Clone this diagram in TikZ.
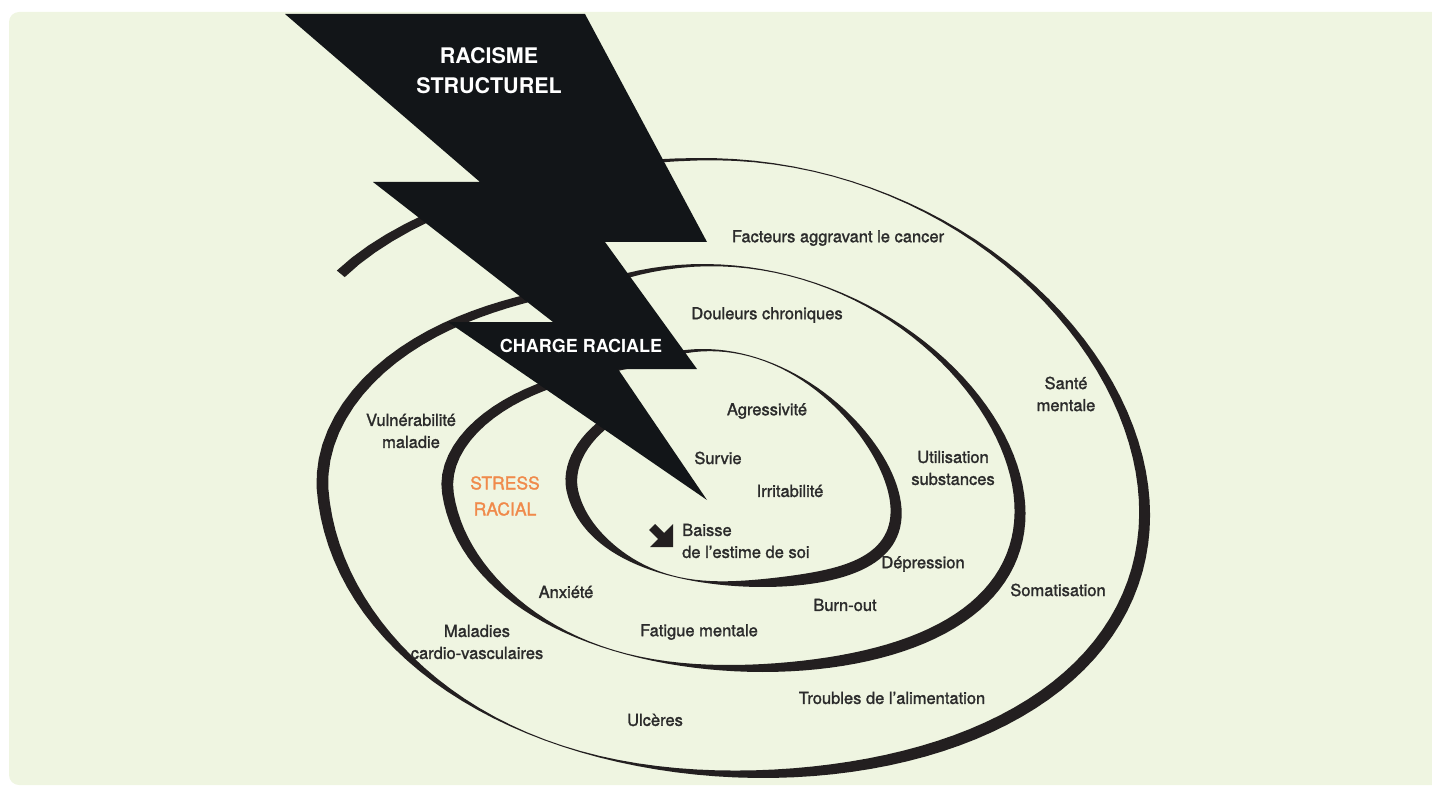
\documentclass[tikz,border=0pt]{standalone}
\usepackage{fontspec}
\setmainfont{TeX Gyre Heros}
\newfontfamily\labfont[FakeBold=1.5]{TeX Gyre Heros}
\definecolor{paper}{HTML}{EFF5E1}
\definecolor{ink}{HTML}{231F20}
\definecolor{bolt}{HTML}{121518}
\definecolor{txt}{HTML}{2B2B2B}
\definecolor{stress}{HTML}{F08A4B}
\tikzset{declare function={
  cl(\x)=min(1,max(0,\x));
  ss(\x)=\x*\x*(3-2*\x);
  Ar(\x)=416+76*ss(cl((\x-90)/50))-125*ss(cl((-180-\x)/75))-125*ss(cl((-540-\x)/75))-46*cl((-900-\x)/50)*cl((-900-\x)/50);
  Br(\x)=310+20*ss(cl((\x-90)/50))-106*ss(cl((-180-\x)/75))-85*ss(cl((-540-\x)/75))-19*cl((-900-\x)/50)*cl((-900-\x)/50);
  dA(\x)=(mod(\x-72+3780,360)-180)/50;
  dB(\x)=(mod(\x+120+3780,360)-180)/30;
  wd(\x)=12-11*exp(-dA(\x)*dA(\x))-11*exp(-dB(\x)*dB(\x));
}}
\begin{document}
\begin{tikzpicture}[x=1pt,y=-1pt,
  lbl/.style={text=txt,inner sep=0pt,align=center,font=\labfont\fontsize{16.5}{22}\selectfont},
  head/.style={text=white,inner sep=0pt,align=center,font=\bfseries\fontsize{21.5}{30}\selectfont}]
  \def\cx{733} \def\cy{468}
  \useasboundingbox (0,0) rectangle (1432,786);
  \fill[paper,rounded corners=10pt] (9,12) rectangle (1445,785);
  \fill[ink] plot[samples=400,domain=140:-945] ({\cx+Ar(\x)*cos(\x)-30*sin(\x)},{\cy-Br(\x)*sin(\x)+25*cos(\x)*cos(\x)})
    -- plot[samples=400,domain=-945:140] ({\cx+(Ar(\x)-wd(\x))*cos(\x)-30*sin(\x)},{\cy-(Br(\x)-wd(\x))*sin(\x)+25*cos(\x)*cos(\x)}) -- cycle;
  \fill[bolt] (285,14) -- (585,14) -- (707,242) -- (605,242) -- (697,369) -- (618,369) -- (707,500) -- (448,322) -- (553,322) -- (373,182) -- (480,182) -- cycle;
  \fill[ink] (655,524) -- (664,533) -- (673,524) -- (673,547) -- (650,547) -- (658,539) -- (649,530) -- cycle;
  \node[head] (racisme) at (489,71) {RACISME\\STRUCTUREL};
  \node[head,font=\bfseries\fontsize{18}{22}\selectfont] (charge) at (581,346) {CHARGE RACIALE};
  \node[lbl,text=stress,font=\labfont\fontsize{17.5}{26}\selectfont] (stress) at (505,496) {STRESS\\RACIAL};
  \node[lbl] (cancer) at (838,238) {Facteurs aggravant le cancer};
  \node[lbl] (douleurs) at (767,315) {Douleurs chroniques};
  \node[lbl] (sante) at (1066,394) {Santé\\mentale};
  \node[lbl] (vuln) at (411,431) {Vulnérabilité\\maladie};
  \node[lbl] (agress) at (767,411) {Agressivité};
  \node[lbl] (survie) at (718,458) {Survie};
  \node[lbl] (util) at (953,468) {Utilisation\\substances};
  \node[lbl] (irrit) at (790,491) {Irritabilité};
  \node[lbl,anchor=west,align=left] (baisse) at (682,541) {Baisse\\de l’estime de soi};
  \node[lbl] (depr) at (923,564) {Dépression};
  \node[lbl] (somat) at (1058,590) {Somatisation};
  \node[lbl] (anx) at (566,592) {Anxiété};
  \node[lbl] (burn) at (845,605) {Burn-out};
  \node[lbl] (fatigue) at (699,632) {Fatigue mentale};
  \node[lbl] (cardio) at (477,642) {Maladies\\cardio-vasculaires};
  \node[lbl] (alim) at (892,698) {Troubles de l’alimentation};
  \node[lbl] (ulceres) at (655,720) {Ulcères};
\end{tikzpicture}
\end{document}
